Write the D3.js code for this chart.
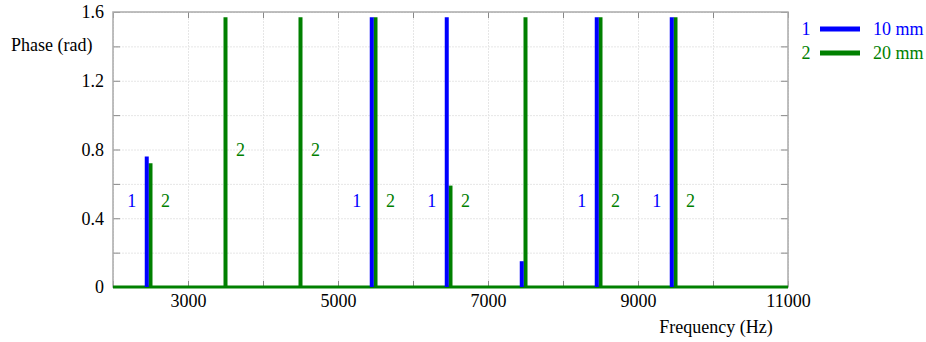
<!DOCTYPE html>
<html>
<head>
<meta charset="utf-8">
<script src="https://cdn.jsdelivr.net/npm/d3@7"></script>
<style>
  body { margin: 0; background: #fff; }
</style>
</head>
<body>
<div id="graph"></div>
<script>
/* data */
const freq1 = [2450, 5450, 6450, 7450, 8450, 9450];
const phase1 = [0.76, 1.57, 1.57, 0.15, 1.57, 1.57];
const freq2 = [2500, 3500, 4500, 5500, 6500, 7500, 8500, 9500];
const phase2 = [0.72, 1.57, 1.57, 1.57, 0.59, 1.57, 1.57, 1.57];

// curve labels "1" and "2" beside the spikes
const label1Freq = [2250, 5250, 6250, 8250, 9250];
const label1Phase = [0.5, 0.5, 0.5, 0.5, 0.5];
const label2Freq = [2700, 3700, 4700, 5700, 6700, 8700, 9700];
const label2Phase = [0.5, 0.8, 0.8, 0.5, 0.5, 0.5, 0.5];

const xTicks = [3000, 5000, 7000, 9000, 11000];
const xGrid = d3.range(2000, 11001, 1000);
const yTicks = [0, 0.4, 0.8, 1.2, 1.6];
const yGrid = [0, 0.2, 0.4, 0.6, 0.8, 1.0, 1.2, 1.4, 1.6];

const legendNames = ["10 mm", "20 mm"];
const colors = ["#0000ff", "#008000"];

const FONT = "Liberation Serif";
const FS = 18;
const W = 926, H = 342;
const L = 113, R = 788, T = 12, B = 287;

const svg = d3.select("#graph").append("svg").attr("width", W).attr("height", H);

const x = d3.scaleLinear().domain([2000, 11000]).range([L, R]);
const y = d3.scaleLinear().domain([0, 1.6]).range([B, T]);

/* grid */
svg.append("g")
  .attr("transform", "translate(0," + B + ")")
  .call(d3.axisBottom(x).tickValues(xGrid).tickSize(-(B - T)).tickFormat(""))
  .call(g => g.select(".domain").remove())
  .selectAll("line").attr("stroke", "#e6e6e6").attr("stroke-dasharray", "2,1");

svg.append("g")
  .attr("transform", "translate(" + L + ",0)")
  .call(d3.axisLeft(y).tickValues(yGrid).tickSize(-(R - L)).tickFormat(""))
  .call(g => g.select(".domain").remove())
  .selectAll("line").attr("stroke", "#e6e6e6").attr("stroke-dasharray", "2,1");

/* inward tick marks on all four sides */
function marks(g) {
  g.select(".domain").remove();
  g.selectAll("line").attr("stroke", "#888");
}
svg.append("g").attr("transform", "translate(0," + B + ")")
  .call(d3.axisBottom(x).tickValues(xGrid).tickSize(-6).tickFormat("")).call(marks);
svg.append("g").attr("transform", "translate(0," + T + ")")
  .call(d3.axisTop(x).tickValues(xGrid).tickSize(-6).tickFormat("")).call(marks);
svg.append("g").attr("transform", "translate(" + L + ",0)")
  .call(d3.axisLeft(y).tickValues(yGrid).tickSize(-7).tickFormat("")).call(marks);
svg.append("g").attr("transform", "translate(" + R + ",0)")
  .call(d3.axisRight(y).tickValues(yGrid).tickSize(-7).tickFormat("")).call(marks);

/* frame */
svg.append("rect")
  .attr("x", L).attr("y", T).attr("width", R - L).attr("height", B - T)
  .attr("fill", "none").attr("stroke", "#aaa").attr("stroke-width", 1.5);

/* tick labels */
svg.append("g").attr("transform", "translate(0," + B + ")")
  .call(d3.axisBottom(x).tickValues(xTicks).tickSize(0).tickPadding(7).tickFormat(d3.format("d")))
  .call(g => g.select(".domain").remove())
  .selectAll("text").attr("font-family", FONT).attr("font-size", FS).attr("fill", "#000");

svg.append("g").attr("transform", "translate(" + L + ",0)")
  .call(d3.axisLeft(y).tickValues(yTicks).tickSize(0).tickPadding(9).tickFormat(d => d === 0 ? "0" : d3.format(".1f")(d)))
  .call(g => g.select(".domain").remove())
  .selectAll("text").attr("font-family", FONT).attr("font-size", FS).attr("fill", "#000");

svg.append("text").attr("x", 11).attr("y", 51)
  .attr("font-family", FONT).attr("font-size", FS)
  .text("Phase (rad)");
svg.append("text").attr("x", 716).attr("y", 333)
  .attr("font-family", FONT).attr("font-size", FS)
  .attr("text-anchor", "middle").text("Frequency (Hz)");

/* baseline of both series */
svg.append("line")
  .attr("x1", x(2000)).attr("x2", x(11000)).attr("y1", y(0)).attr("y2", y(0))
  .attr("stroke", colors[1]).attr("stroke-width", 3);

/* spikes */
function spikes(freqs, vals, color) {
  svg.append("g").selectAll("line")
    .data(freqs)
    .enter()
    .append("line")
    .attr("x1", d => x(d)).attr("x2", d => x(d))
    .attr("y1", y(0))
    .attr("y2", (d, i) => y(vals[i]))
    .attr("stroke", color)
    .attr("stroke-width", 4);
}
spikes(freq2, phase2, colors[1]);
spikes(freq1, phase1, colors[0]);

/* curve labels */
function labels(freqs, vals, txt, color) {
  svg.append("g").selectAll("text")
    .data(freqs)
    .enter()
    .append("text")
    .attr("x", d => x(d))
    .attr("y", (d, i) => y(vals[i]))
    .attr("dy", "0.35em")
    .attr("text-anchor", "middle")
    .attr("font-family", FONT)
    .attr("font-size", FS)
    .attr("fill", color)
    .text(txt);
}
labels(label1Freq, label1Phase, "1", colors[0]);
labels(label2Freq, label2Phase, "2", colors[1]);

/* legend */
const leg = svg.append("g");
legendNames.forEach((name, i) => {
  const yy = 29 + i * 24;
  leg.append("text").attr("x", 806).attr("y", yy).attr("dy", "0.35em")
    .attr("text-anchor", "middle").attr("font-family", FONT).attr("font-size", FS)
    .attr("fill", colors[i]).text(i + 1);
  leg.append("line").attr("x1", 820).attr("x2", 860).attr("y1", yy).attr("y2", yy)
    .attr("stroke", colors[i]).attr("stroke-width", 5);
  leg.append("text").attr("x", 873).attr("y", yy).attr("dy", "0.35em")
    .attr("font-family", FONT).attr("font-size", FS)
    .attr("fill", colors[i]).text(name);
});
</script>
</body>
</html>
